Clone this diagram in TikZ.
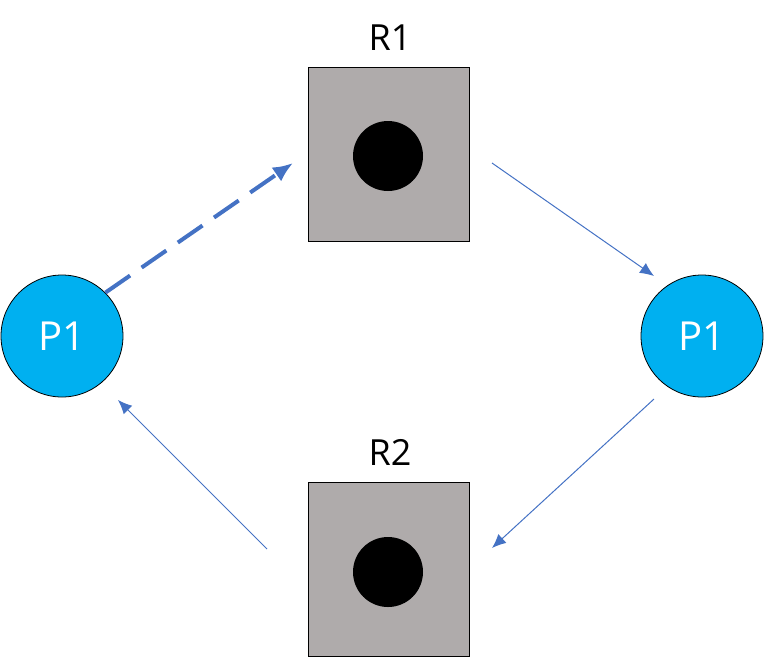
\documentclass[tikz,border=0pt]{standalone}
\usepackage{fontspec}
\setmainfont{Open Sans}
\usetikzlibrary{arrows.meta,positioning}
\definecolor{placeblue}{HTML}{00B0F0}
\definecolor{resgray}{HTML}{AFABAB}
\definecolor{linkblue}{HTML}{4472C4}
\begin{document}
\begin{tikzpicture}[x=1pt, y=-1pt]

		\tikzstyle{place}=[circle, draw, thick, fill=placeblue, text=white, minimum size=122pt, inner sep=0pt, font=\fontsize{40}{46}\selectfont]
		\tikzstyle{res}=[rectangle, draw, thick, fill=resgray, minimum width=161pt, minimum height=174pt, inner sep=0pt]
		\tikzstyle{token}=[circle, fill=black, minimum size=70pt, inner sep=0pt]
		\tikzstyle{reslabel}=[font=\fontsize{36}{42}\selectfont]
		\tikzstyle{link}=[-{Latex[length=14pt,width=12pt]}, linkblue, line width=1pt]

		\useasboundingbox (0,0) rectangle (765,657);

		\node[place] (p1l) at (62,336)  {P1};
		\node[place] (p1r) at (702,336) {P1};

		\node[res] (r1) at (388.5,154) {};
		\node[res] (r2) at (388.5,569) {};
		\node[token] (t1) at (388,156) {};
		\node[token] (t2) at (388,572) {};

		\node[reslabel] (l1) at (390,38)  {R1};
		\node[reslabel] (l2) at (390,452) {R2};

		   % free ends of the links
		   \coordinate (a1) at (293,163);
		   \coordinate (b2s) at (492,163);
		   \coordinate (b2e) at (654,276);
		   \coordinate (b3s) at (654,399);
		   \coordinate (b3e) at (492,548);
		   \coordinate (b4s) at (267,549);
		   \coordinate (b4e) at (118,400);

		   \draw[-{Latex[length=20pt,width=17pt]}, linkblue, line width=4pt, dash pattern=on 30pt off 14pt] (p1l.45) -- (a1);
		   \draw[link] (b2s) -- (b2e);
		   \draw[link] (b3s) -- (b3e);
		   \draw[link] (b4s) -- (b4e);
		\end{tikzpicture}
\end{document}
